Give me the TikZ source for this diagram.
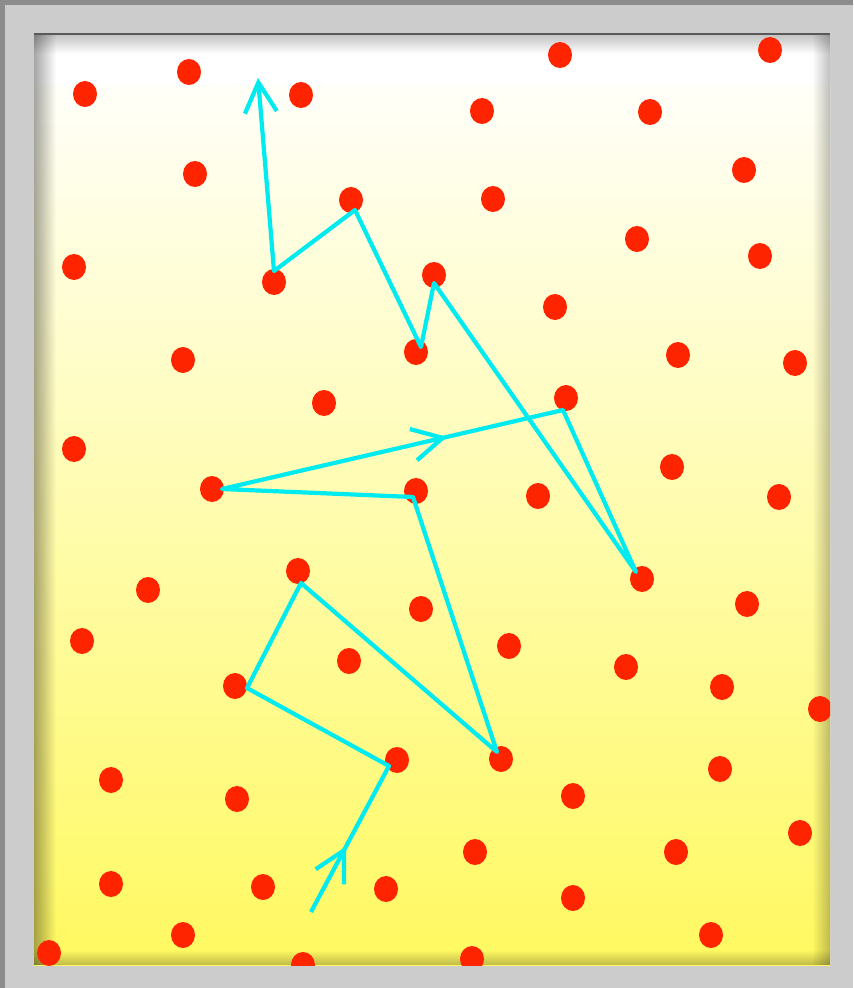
\documentclass[tikz,border=0pt]{standalone}
\usetikzlibrary{arrows.meta,decorations.markings,fadings}

\definecolor{cadre}{RGB}{204,204,204}
\definecolor{bordcadre}{RGB}{140,140,140}
\definecolor{jaune}{RGB}{255,249,96}
\definecolor{rouge}{RGB}{255,36,0}
\definecolor{trajet}{RGB}{0,235,240}

\tikzset{
  pointe/.style={-{Straight Barb[length=0.3cm,width=0.32cm]}},
  chemin/.style={draw=trajet, line width=1.2pt, line join=round},
  fleche milieu/.style={postaction={decorate}, decoration={markings,
      mark=at position #1 with {\arrow{Straight Barb[length=0.3cm,width=0.32cm]}}}}
}

\begin{document}
\begin{tikzpicture}[x=0.01cm, y=-0.01cm]
    \useasboundingbox (0,0) rectangle (853,988);

    % Le cadre gris
    \fill[cadre] (0,0) rectangle (853,988);
    \fill[bordcadre] (0,0) rectangle (853,5);
    \fill[bordcadre] (0,0) rectangle (5,988);

    % Le panneau : blanc en haut, jaune en bas
    \fill[white] (34,33) rectangle (830,86);
    \shade[top color=white!96!jaune, bottom color=jaune] (34,86) rectangle (830,965);

    % Ombres intérieures des bords
    \fill[black, fill opacity=0.35, path fading=east] (34,33) rectangle (56,965);
    \fill[black, fill opacity=0.25, path fading=west] (812,33) rectangle (830,965);
    \fill[black, fill opacity=0.25, path fading=south] (34,33) rectangle (830,54);
    \fill[black, fill opacity=0.25, path fading=north] (34,950) rectangle (830,965);
    \fill[black!65] (34,33) rectangle (830,35);

    % Les points rouges (coupés par le bord du panneau)
    \begin{scope}
        \clip (34,33) rectangle (830,965);
        \foreach \x/\y in {85/94, 189/72, 301/95, 560/55, 770/50, 482/111, 650/112,
                           195/174, 351/200, 493/199, 744/170, 637/239, 760/256,
                           74/267, 274/282, 434/275, 555/307,
                           183/360, 416/352, 678/355, 795/363,
                           324/403, 566/398, 74/449, 672/467,
                           212/489, 416/491, 538/496, 779/497,
                           148/590, 298/571, 642/579, 747/604,
                           421/609, 82/641, 509/646, 349/661, 626/667,
                           235/686, 722/687, 820/709,
                           397/760, 501/759, 111/780, 720/769,
                           237/799, 573/796, 800/833, 475/852, 676/852,
                           111/884, 263/887, 386/889, 573/898,
                           183/935, 711/935, 49/953, 303/965, 472/959}
            \fill[rouge] (\x,\y) ellipse (12 and 13);
    \end{scope}

    % Les sommets du trajet
    \coordinate (p0) at (311,912);
    \coordinate (p1) at (389,766);
    \coordinate (p2) at (247,688);
    \coordinate (p3) at (301,583);
    \coordinate (p4) at (497,752);
    \coordinate (p5) at (413,497);
    \coordinate (p6) at (222,489);
    \coordinate (p7) at (563,410);
    \coordinate (p8) at (636,572);
    \coordinate (p9) at (434,283);
    \coordinate (p10) at (421,347);
    \coordinate (p11) at (355,210);
    \coordinate (p12) at (274,271);
    \coordinate (p13) at (258,78);

    % Le trajet en cyan
    \draw[chemin, pointe] (p0) -- (p1) -- (p2) -- (p3) -- (p4) -- (p5) -- (p6)
        -- (p7) -- (p8) -- (p9) -- (p10) -- (p11) -- (p12) -- (p13);
    \path[chemin, draw=none, fleche milieu=0.45, trajet] (p0) -- (p1);
    \path[chemin, draw=none, fleche milieu=0.66, trajet] (p6) -- (p7);
\end{tikzpicture}
\end{document}
